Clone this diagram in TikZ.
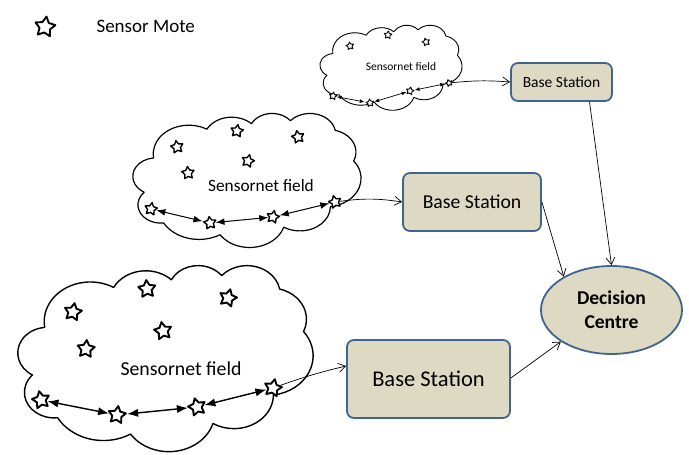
\documentclass[tikz,border=0pt]{standalone}
\usepackage{fontspec}
\setmainfont{Carlito}
\usetikzlibrary{shapes.geometric,arrows.meta}
\definecolor{tanfill}{HTML}{DDD9C3}
\definecolor{bsborder}{HTML}{41648F}
% Office-style cloud outline: arcs given by visual angles, turned into parametric ones
\newcommand\ooprep[5]{%
  \pgfmathsetmacro\tmpS{atan2(#2*sin(#4),#3*cos(#4))}%
  \pgfmathsetmacro\tmpE{atan2(#2*sin(#4+#5),#3*cos(#4+#5))}%
  \pgfmathsetmacro\tmpD{mod(\tmpE-\tmpS+720,360)}%
  \expandafter\let\csname oos#1\endcsname\tmpS
  \expandafter\let\csname ood#1\endcsname\tmpD}
\ooprep{A}{67.53}{91.90}{-190.48748}{123.78053}
\ooprep{B}{53.33}{72.67}{-144.10238}{89.94523}
\ooprep{C}{43.65}{59.45}{-145.80792}{99.72302}
\ooprep{D}{48.57}{65.95}{-130.98607}{117.24173}
\ooprep{E}{53.33}{72.73}{-78.70888}{109.02692}
\ooprep{F}{67.75}{92.20}{-46.26725}{130.269}
\ooprep{G}{57.85}{78.67}{0.62502}{114.03333}
\ooprep{H}{67.52}{92.15}{22.4516}{115.17255}
\ooprep{I}{77.20}{105.43}{66.24263}{75.71102}
\ooprep{J}{43.60}{59.18}{-274.94208}{146.73557}
\ooprep{K}{43.45}{59.45}{-246.8285}{152.51885}
\newcommand\ooarc[3]{arc[start angle=\csname oos#1\endcsname,delta angle=\csname ood#1\endcsname,x radius=#2,y radius=#3]}
\newcommand\oocloud[5]{%
  \pgfmathsetmacro\ooxs{#3/432}\pgfmathsetmacro\ooys{#4/432}%
  \begin{scope}[shift={(#1,#2)},x=\ooxs pt,y=-\ooys pt]
    \draw[line join=round,#5] (39,143.7) \ooarc{A}{67.53}{91.90} \ooarc{B}{53.33}{72.67}
      \ooarc{C}{43.65}{59.45} \ooarc{D}{48.57}{65.95} \ooarc{E}{53.33}{72.73}
      \ooarc{F}{67.75}{92.20} \ooarc{G}{57.85}{78.67} \ooarc{H}{67.52}{92.15}
      \ooarc{I}{77.20}{105.43} \ooarc{J}{43.60}{59.18} \ooarc{K}{43.45}{59.45} -- cycle;
  \end{scope}}
\begin{document}
\begin{tikzpicture}[x=1pt,y=-1pt,
  mote/.style={star,star points=5,star point ratio=1.9,draw,line width=1.4pt,line join=round,inner sep=0pt,minimum size=#1,fill=white},
  bstation/.style={draw=bsborder,fill=tanfill,line width=1.8pt,rounded corners=7pt,inner sep=0pt},
  link/.style={{Latex[length=#1,width=0.75*#1]}-{Latex[length=#1,width=0.75*#1]},line width=1pt,shorten >=0.5pt,shorten <=0.5pt},
  feed/.style={-{Straight Barb[length=7pt,width=9pt]},line width=0.7pt},
]
\useasboundingbox (0,0) rectangle (689,455);
% legend
\node[mote=21pt,line width=1.9pt,rotate=-8] (legstar) at (45,27) {};
\node[anchor=west,font=\fontsize{19}{22}\selectfont] (legtext) at (93,26) {Sensor Mote};

% small cloud
\oocloud{320}{25}{142}{85}{line width=0.9pt}
\node[font=\fontsize{11.5}{13}\selectfont] (t1) at (401,67) {Sensornet field};
\node[mote=8pt,line width=0.9pt,rotate=10] (a1) at (350,46) {};
\node[mote=8pt,line width=0.9pt,rotate=-5] (a2) at (388,35) {};
\node[mote=8pt,line width=0.9pt,rotate=15] (a3) at (426,42) {};
\node[mote=8pt,line width=0.9pt,rotate=-10] (ac1) at (333,96) {};
\node[mote=8pt,line width=0.9pt,rotate=8] (ac2) at (370,103) {};
\node[mote=8pt,line width=0.9pt,rotate=-12] (ac3) at (410,91) {};
\node[mote=7pt,line width=0.9pt,rotate=20] (ac4) at (449,83) {};
\draw[link=5pt,line width=0.7pt] (ac1) -- (ac2);
\draw[link=5pt,line width=0.7pt] (ac2) -- (ac3);
\draw[link=5pt,line width=0.7pt] (ac3) -- (ac4);

% medium cloud
\oocloud{133}{113}{228}{134}{line width=1.2pt}
\node[font=\fontsize{17.3}{20}\selectfont] (t2) at (261,186) {Sensornet field};
\node[mote=13pt,rotate=10] (b1) at (177,147) {};
\node[mote=13pt,rotate=-8] (b2) at (237,131) {};
\node[mote=13pt,rotate=12] (b3) at (298,137) {};
\node[mote=13pt,rotate=-15] (b4) at (248,161) {};
\node[mote=13pt,rotate=5] (b5) at (188,173) {};
\node[mote=13pt,rotate=-10] (bc1) at (151,209) {};
\node[mote=13pt,rotate=8] (bc2) at (210,223) {};
\node[mote=13pt,rotate=-12] (bc3) at (273,217) {};
\node[mote=13pt,rotate=15] (bc4) at (335,202) {};
\draw[link=9pt] (bc1) -- (bc2);
\draw[link=9pt] (bc2) -- (bc3);
\draw[link=9pt] (bc3) -- (bc4);

% large cloud
\oocloud{18}{265}{295}{186}{line width=1.4pt}
\node[font=\fontsize{19.8}{23}\selectfont] (t3) at (181,369) {Sensornet field};
\node[mote=18pt,line width=1.9pt,rotate=-10] (c1) at (73,312) {};
\node[mote=18pt,line width=1.9pt,rotate=5] (c2) at (147,289) {};
\node[mote=18pt,line width=1.9pt,rotate=-15] (c3) at (228,298) {};
\node[mote=18pt,line width=1.9pt,rotate=10] (c4) at (163,331) {};
\node[mote=18pt,line width=1.9pt,rotate=-5] (c5) at (86,349) {};
\node[mote=18pt,line width=1.9pt,rotate=12] (cc1) at (41,400) {};
\node[mote=18pt,line width=1.9pt,rotate=-8] (cc2) at (117,415) {};
\node[mote=18pt,line width=1.9pt,rotate=15] (cc3) at (197,407) {};
\node[mote=18pt,line width=1.9pt,rotate=-12] (cc4) at (273,388) {};
\draw[link=11pt,line width=1.4pt] (cc1) -- (cc2);
\draw[link=11pt,line width=1.4pt] (cc2) -- (cc3);
\draw[link=11pt,line width=1.4pt] (cc3) -- (cc4);

% base stations
\node[bstation,minimum width=101,minimum height=38,font=\fontsize{15.5}{18}\selectfont] (bs1) at (561.5,82) {Base Station};
\node[bstation,minimum width=138,minimum height=58,font=\fontsize{19.7}{23}\selectfont] (bs2) at (472,202) {Base Station};
\node[bstation,minimum width=163,minimum height=78,font=\fontsize{22.5}{26}\selectfont] (bs3) at (428.5,379) {Base Station};

% decision centre
\node[ellipse,draw=bsborder,fill=tanfill,line width=1.8pt,minimum width=141,minimum height=88,inner sep=0pt,align=center,font=\bfseries\fontsize{19.6}{24}\selectfont] (dc) at (611.5,310) {Decision\\Centre};

% feeds
\draw[feed] (ac4) to[bend left=5] (bs1.west);
\draw[feed] (bc4) to[bend left=8] (bs2.west);
\draw[feed] (cc4) to[bend left=3] ([yshift=13pt]bs3.west);
\draw[feed] ([xshift=28pt]bs1.south) -- (dc.90);
\draw[feed] (bs2.east) -- (dc.145);
\draw[feed] ([yshift=1pt]bs3.east) -- (dc.212);
\end{tikzpicture}
\end{document}
